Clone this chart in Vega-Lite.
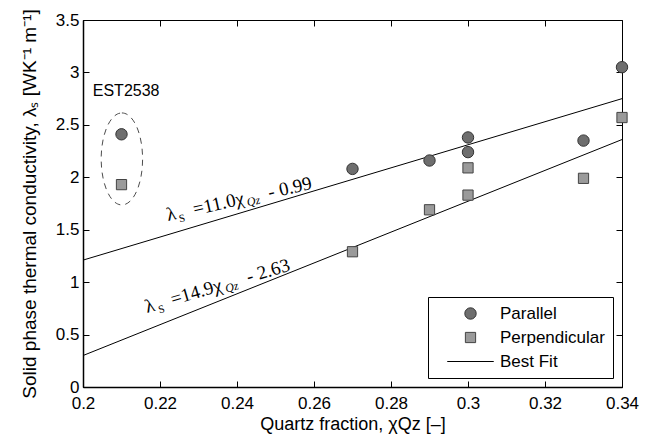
{
  "$schema": "https://vega.github.io/schema/vega-lite/v6.json",
  "width": 539,
  "height": 367,
  "autosize": "none",
  "padding": {"left": 83, "top": 20, "right": 29, "bottom": 52},
  "background": "white",
  "config": {
    "view": {"stroke": "black", "strokeWidth": 1},
    "font": "Liberation Sans",
    "axis": {
      "grid": false,
      "domainColor": "black",
      "domainWidth": 1.5,
      "tickColor": "black",
      "tickSize": -6,
      "labelFlush": false,
      "labelFont": "Liberation Sans",
      "labelFontSize": 17,
      "labelColor": "black",
      "titleFont": "Liberation Sans",
      "titleFontSize": 18,
      "titleFontWeight": "normal",
      "titleColor": "black"
    },
    "legend": {
      "orient": "bottom-right",
      "offset": 9,
      "strokeColor": "black",
      "fillColor": "white",
      "padding": 8,
      "labelFont": "Liberation Sans",
      "labelFontSize": 17,
      "labelColor": "black",
      "rowPadding": 6,
      "symbolOffset": 26,
      "labelOffset": 21,
      "symbolStrokeWidth": 1
    }
  },
  "datasets": {
    "pts": [
      {"x": 0.21, "y": 2.41, "series": "Parallel"},
      {"x": 0.27, "y": 2.08, "series": "Parallel"},
      {"x": 0.29, "y": 2.16, "series": "Parallel"},
      {"x": 0.30, "y": 2.38, "series": "Parallel"},
      {"x": 0.30, "y": 2.24, "series": "Parallel"},
      {"x": 0.33, "y": 2.35, "series": "Parallel"},
      {"x": 0.34, "y": 3.05, "series": "Parallel"},
      {"x": 0.21, "y": 1.93, "series": "Perpendicular"},
      {"x": 0.27, "y": 1.29, "series": "Perpendicular"},
      {"x": 0.29, "y": 1.69, "series": "Perpendicular"},
      {"x": 0.30, "y": 2.09, "series": "Perpendicular"},
      {"x": 0.30, "y": 1.83, "series": "Perpendicular"},
      {"x": 0.33, "y": 1.99, "series": "Perpendicular"},
      {"x": 0.34, "y": 2.57, "series": "Perpendicular"}
    ],
    "fits": [
      {"x": 0.2, "y": 1.21, "fit": "a"},
      {"x": 0.34, "y": 2.75, "fit": "a"},
      {"x": 0.2, "y": 0.30, "fit": "b"},
      {"x": 0.34, "y": 2.36, "fit": "b"}
    ],
    "ell": [{"x": 0.2101, "y": 2.175}],
    "lab": [{"x": 0.2112, "y": 2.823, "t": "EST2538"}],
    "e1": [{"x": 0.2221, "y": 1.582, "l": "λ", "s": "S", "m": "=11.0χ", "q": "Qz", "r": "- 0.99"}],
    "e2": [{"x": 0.2166, "y": 0.705, "l": "λ", "s": "S", "m": "=14.9χ", "q": "Qz", "r": "- 2.63"}]
  },
  "resolve": {"axis": {"x": "independent", "y": "independent"}},
  "layer": [
    {
      "data": {"name": "fits"},
      "mark": {"type": "line", "color": "black", "strokeWidth": 1},
      "encoding": {
        "x": {"field": "x", "type": "quantitative", "scale": {"domain": [0.2, 0.34], "nice": false, "zero": false},
          "axis": {"orient": "top", "labels": false, "title": null, "domain": false, "values": [0.2, 0.22, 0.24, 0.26, 0.28, 0.3, 0.32, 0.34]}},
        "y": {"field": "y", "type": "quantitative", "scale": {"domain": [0, 3.5], "nice": false, "zero": false},
          "axis": {"orient": "right", "labels": false, "title": null, "domain": false, "values": [0, 0.5, 1, 1.5, 2, 2.5, 3, 3.5]}},
        "detail": {"field": "fit"}
      }
    },
    {
      "data": {"name": "pts"},
      "mark": {"type": "point", "filled": true, "strokeWidth": 1, "opacity": 1},
      "encoding": {
        "x": {"field": "x", "type": "quantitative", "title": "Quartz fraction, χQz [–]",
          "axis": {"orient": "bottom", "format": "~g", "labelPadding": 14, "titlePadding": 4, "values": [0.2, 0.22, 0.24, 0.26, 0.28, 0.3, 0.32, 0.34]}},
        "y": {"field": "y", "type": "quantitative", "title": "Solid phase thermal conductivity, λₛ [WK⁻¹ m⁻¹]",
          "axis": {"orient": "left", "format": "~g", "labelPadding": 10, "titlePadding": 16, "titleFontSize": 19, "values": [0, 0.5, 1, 1.5, 2, 2.5, 3, 3.5]}},
        "shape": {"field": "series", "type": "nominal", "title": null,
          "scale": {"domain": ["Parallel", "Perpendicular", "Best Fit"], "range": ["circle", "square", "M-5.2,0H5.2"]}},
        "fill": {"field": "series", "type": "nominal", "title": null,
          "scale": {"domain": ["Parallel", "Perpendicular", "Best Fit"], "range": ["#6e6e6e", "#9a9a9a", "#000000"]}},
        "stroke": {"field": "series", "type": "nominal", "title": null,
          "scale": {"domain": ["Parallel", "Perpendicular", "Best Fit"], "range": ["#333333", "#444444", "#000000"]}},
        "size": {"field": "series", "type": "nominal", "title": null,
          "scale": {"domain": ["Parallel", "Perpendicular", "Best Fit"], "range": [130, 80, 100]}}
      }
    },
    {
      "data": {"name": "ell"},
      "mark": {"type": "point", "filled": false, "stroke": "black", "strokeWidth": 1, "strokeDash": [6, 5], "size": 8464,
        "shape": "M0,-1 A0.45,1 0 1,1 0,1 A0.45,1 0 1,1 0,-1 Z"},
      "encoding": {
        "x": {"field": "x", "type": "quantitative", "axis": null},
        "y": {"field": "y", "type": "quantitative", "axis": null}
      }
    },
    {
      "data": {"name": "lab"},
      "mark": {"type": "text", "font": "Liberation Sans", "fontSize": 16, "align": "center", "baseline": "middle", "color": "black"},
      "encoding": {
        "x": {"field": "x", "type": "quantitative", "axis": null},
        "y": {"field": "y", "type": "quantitative", "axis": null},
        "text": {"field": "t"}
      }
    },
    {"data": {"name": "e1"}, "mark": {"type": "text", "font": "Liberation Serif", "fontSize": 19, "align": "left", "baseline": "alphabetic", "angle": 347.4, "dx": 0, "color": "black"},
      "encoding": {"x": {"field": "x", "type": "quantitative", "axis": null}, "y": {"field": "y", "type": "quantitative", "axis": null}, "text": {"field": "l"}}},
    {"data": {"name": "e1"}, "mark": {"type": "text", "font": "Liberation Serif", "fontSize": 11, "align": "left", "baseline": "alphabetic", "angle": 347.4, "dx": 11, "dy": 4, "color": "black"},
      "encoding": {"x": {"field": "x", "type": "quantitative", "axis": null}, "y": {"field": "y", "type": "quantitative", "axis": null}, "text": {"field": "s"}}},
    {"data": {"name": "e1"}, "mark": {"type": "text", "font": "Liberation Serif", "fontSize": 19, "align": "left", "baseline": "alphabetic", "angle": 347.4, "dx": 27, "color": "black"},
      "encoding": {"x": {"field": "x", "type": "quantitative", "axis": null}, "y": {"field": "y", "type": "quantitative", "axis": null}, "text": {"field": "m"}}},
    {"data": {"name": "e1"}, "mark": {"type": "text", "font": "Liberation Serif", "fontSize": 12, "fontStyle": "italic", "align": "left", "baseline": "alphabetic", "angle": 347.4, "dx": 81, "dy": 3, "color": "black"},
      "encoding": {"x": {"field": "x", "type": "quantitative", "axis": null}, "y": {"field": "y", "type": "quantitative", "axis": null}, "text": {"field": "q"}}},
    {"data": {"name": "e1"}, "mark": {"type": "text", "font": "Liberation Serif", "fontSize": 19, "align": "left", "baseline": "alphabetic", "angle": 347.4, "dx": 104, "color": "black"},
      "encoding": {"x": {"field": "x", "type": "quantitative", "axis": null}, "y": {"field": "y", "type": "quantitative", "axis": null}, "text": {"field": "r"}}},
    {"data": {"name": "e2"}, "mark": {"type": "text", "font": "Liberation Serif", "fontSize": 19, "align": "left", "baseline": "alphabetic", "angle": 343.5, "dx": 0, "color": "black"},
      "encoding": {"x": {"field": "x", "type": "quantitative", "axis": null}, "y": {"field": "y", "type": "quantitative", "axis": null}, "text": {"field": "l"}}},
    {"data": {"name": "e2"}, "mark": {"type": "text", "font": "Liberation Serif", "fontSize": 11, "align": "left", "baseline": "alphabetic", "angle": 343.5, "dx": 12, "dy": 4, "color": "black"},
      "encoding": {"x": {"field": "x", "type": "quantitative", "axis": null}, "y": {"field": "y", "type": "quantitative", "axis": null}, "text": {"field": "s"}}},
    {"data": {"name": "e2"}, "mark": {"type": "text", "font": "Liberation Serif", "fontSize": 19, "align": "left", "baseline": "alphabetic", "angle": 343.5, "dx": 27, "color": "black"},
      "encoding": {"x": {"field": "x", "type": "quantitative", "axis": null}, "y": {"field": "y", "type": "quantitative", "axis": null}, "text": {"field": "m"}}},
    {"data": {"name": "e2"}, "mark": {"type": "text", "font": "Liberation Serif", "fontSize": 12, "fontStyle": "italic", "align": "left", "baseline": "alphabetic", "angle": 343.5, "dx": 82, "dy": 3, "color": "black"},
      "encoding": {"x": {"field": "x", "type": "quantitative", "axis": null}, "y": {"field": "y", "type": "quantitative", "axis": null}, "text": {"field": "q"}}},
    {"data": {"name": "e2"}, "mark": {"type": "text", "font": "Liberation Serif", "fontSize": 19, "align": "left", "baseline": "alphabetic", "angle": 343.5, "dx": 106, "color": "black"},
      "encoding": {"x": {"field": "x", "type": "quantitative", "axis": null}, "y": {"field": "y", "type": "quantitative", "axis": null}, "text": {"field": "r"}}}
  ]
}
